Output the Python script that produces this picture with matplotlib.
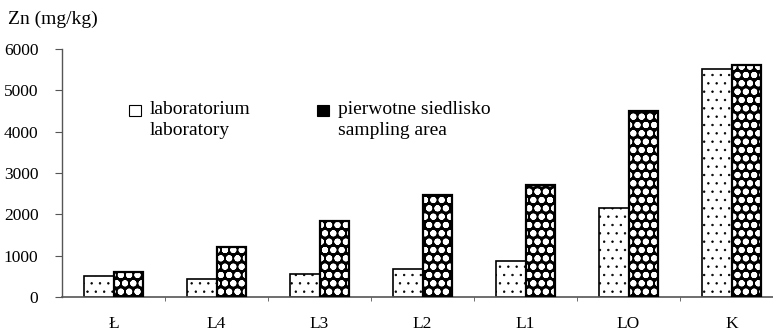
import numpy as np
import matplotlib
matplotlib.use("Agg")
import matplotlib.pyplot as plt
from matplotlib.patches import Rectangle

# dane
categories = ["Ł", "L4", "L3", "L2", "L1", "LO", "K"]
laboratorium = [500, 430, 550, 670, 880, 2150, 5510]
siedlisko = [610, 1215, 1850, 2470, 2710, 4490, 5610]
yticks = [0, 1000, 2000, 3000, 4000, 5000, 6000]

plt.rcParams['font.family'] = ['Liberation Serif', 'DejaVu Serif']

fig = plt.figure(figsize=(7.73, 3.31), dpi=100)
ax = fig.add_axes([62 / 773, 34 / 331, 721 / 773, 248 / 331])

x = np.arange(len(categories))
w = 0.286

# laboratorium - jasne kropkowane
plt.rcParams['hatch.linewidth'] = 0.5
ax.bar(x - w / 2, laboratorium, width=w, facecolor='white', edgecolor='black',
       hatch='..', linewidth=1.2, zorder=2)

# pierwotne siedlisko - ciemna szachownica
plt.rcParams['hatch.linewidth'] = 2.0
ax.bar(x + w / 2, siedlisko, width=w, facecolor='black', edgecolor='white',
       hatch='oo', linewidth=0, zorder=2)
ax.bar(x + w / 2, siedlisko, width=w, facecolor='none', edgecolor='black',
       linewidth=1.6, zorder=3)

ax.set_xlim(-0.5, len(categories) - 0.5)
ax.set_ylim(0, 6000)
ax.set_yticks(yticks)
ax.set_yticklabels([str(v) for v in yticks], fontsize=12.5)
ax.set_xticks(x)
ax.set_xticklabels(categories, fontsize=12.5)
ax.tick_params(axis='x', length=0, pad=14)
ax.set_xticks(x[:-1] + 0.5, minor=True)
ax.tick_params(axis='x', which='minor', length=3, direction='out', color='#555555')
ax.tick_params(axis='y', length=5, direction='out', color='#555555', pad=12)

for s in ['top', 'right']:
    ax.spines[s].set_visible(False)
ax.spines['left'].set_color('#555555')
ax.spines['bottom'].set_color('#555555')
ax.spines['left'].set_linewidth(1.0)
ax.spines['bottom'].set_linewidth(1.2)

fig.text(8 / 773, 1 - 19 / 331, "Zn (mg/kg)", fontsize=14, va='center', ha='left')

# legenda
def legend_box(px, py, face, hatch, edge):
    r = Rectangle((px / 773, 1 - (py + 11) / 331), 12 / 773, 11 / 331,
                  transform=fig.transFigure, facecolor=face, edgecolor=edge,
                  hatch=hatch, linewidth=0.8)
    fig.add_artist(r)

plt.rcParams['hatch.linewidth'] = 0.5
legend_box(129, 105, 'white', '', 'black')
fig.text(150 / 773, 1 - 101 / 331, "laboratorium\nlaboratory", fontsize=14,
         va='top', ha='left', linespacing=1.3)
plt.rcParams['hatch.linewidth'] = 1.5
legend_box(317, 105, 'black', 'o', 'black')
fig.text(338 / 773, 1 - 101 / 331, "pierwotne siedlisko\nsampling area", fontsize=14,
         va='top', ha='left', linespacing=1.3)

fig.savefig("out.png", dpi=100)
